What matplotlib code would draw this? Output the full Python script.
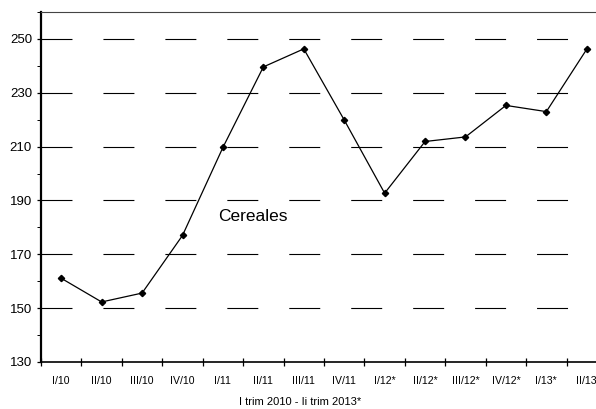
import matplotlib.pyplot as plt
from matplotlib.ticker import FixedLocator, MultipleLocator
import numpy as np

plt.rcParams["font.family"] = ["Liberation Sans", "DejaVu Sans"]
plt.rcParams["lines.scale_dashes"] = False

quarters = ["I/10", "II/10", "III/10", "IV/10", "I/11", "II/11", "III/11",
            "IV/11", "I/12*", "II/12*", "III/12*", "IV/12*", "I/13*", "II/13"]
cereales = [161.1, 152.3, 155.6, 177.0, 209.7, 239.6, 246.3,
            219.9, 192.7, 211.9, 213.6, 225.3, 223.0, 246.2]
grid_levels = [150, 170, 190, 210, 230, 250]

fig = plt.figure(figsize=(5.96, 4.09), dpi=100)
# axes runs a bit past the right edge, like the original export
ax = fig.add_axes([41 / 596, 47 / 409, 566 / 596, 350 / 409])

x = np.arange(len(quarters))
for g in grid_levels:
    ax.axhline(g, color="black", lw=0.8, dashes=(22.3, 22.3), zorder=1)

ax.plot(x, cereales, color="black", lw=0.9, marker="D", ms=3.2, zorder=3)

ax.set_xlim(-0.5, len(quarters) - 0.5)
ax.set_ylim(130, 260)

ax.xaxis.set_major_locator(FixedLocator(np.arange(len(quarters) + 1) - 0.5))
ax.xaxis.set_minor_locator(FixedLocator(x))
ax.set_xticklabels([])
ax.set_xticklabels(quarters, minor=True, fontsize=7.6)
ax.tick_params(axis="x", which="major", direction="inout", length=6, width=0.9)
ax.tick_params(axis="x", which="minor", length=0, pad=10)

ax.set_yticks([130, 150, 170, 190, 210, 230, 250])
ax.yaxis.set_minor_locator(MultipleLocator(10))
ax.tick_params(axis="y", which="major", direction="out", length=3, width=0.9, labelsize=9.5)
ax.tick_params(axis="y", which="minor", direction="out", length=3, width=0.7)

ax.spines["left"].set_linewidth(1.6)
ax.spines["bottom"].set_linewidth(1.2)
ax.spines["top"].set_linewidth(0.8)
ax.spines["top"].set_color("#444444")
ax.spines["right"].set_visible(False)

ax.text(3.88, 184, "Cereales", fontsize=12.5, va="center")
ax.set_xlabel("I trim 2010 - Ii trim 2013*", fontsize=8, labelpad=8, x=(300 - 41) / 566)

plt.savefig("out.png", dpi=100)
